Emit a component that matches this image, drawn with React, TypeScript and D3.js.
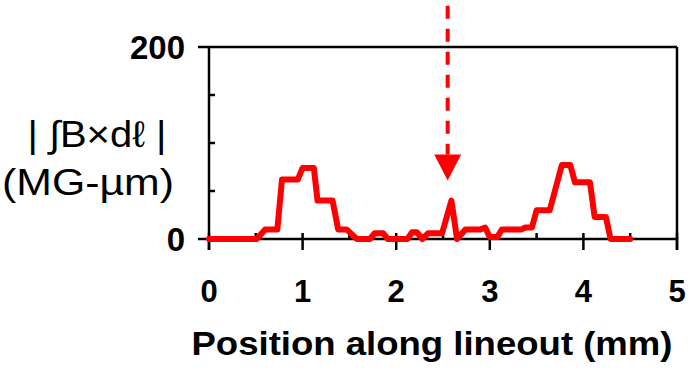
import React, { useEffect, useRef } from 'react';
import * as d3 from 'd3';

// lineout: position (mm) and |∫B×dℓ| (MG-µm)
const positions = [
  0, 0.51, 0.6, 0.73, 0.78, 0.95, 1.0, 1.12, 1.16, 1.32, 1.38, 1.47, 1.58, 1.72,
  1.77, 1.86, 1.91, 2.12, 2.17, 2.22, 2.28, 2.34, 2.49, 2.59, 2.65, 2.74, 2.9,
  2.95, 3.0, 3.08, 3.13, 3.34, 3.38, 3.45, 3.5, 3.64, 3.77, 3.86, 3.91, 4.07,
  4.12, 4.24, 4.29, 4.5,
];
const fieldValues = [
  0, 0, 10, 10, 62, 62, 74, 74, 40, 40, 10, 10, 0, 0,
  6, 6, 0, 0, 7, 7, 0, 6, 6, 40, 0, 10, 10,
  12, 2, 2, 10, 10, 12, 12, 30, 30, 77, 77, 59, 59,
  23, 23, 0, 0,
];

const xTicks = [0, 1, 2, 3, 4, 5];
const xMinorTicks = [0.5, 1.5, 2.5, 3.5, 4.5];
const yTicks = [0, 200];
const yMinorTicks = [50, 100, 150];

// dashed arrow marking the feature
const arrowPosition = 2.55;
const arrowTop = 243;
const arrowBase = 88;
const arrowTip = 61;

type Pt = { x: number; v: number };

const FONT = '"Liberation Sans", Arial, Helvetica, sans-serif';

const LineoutChart: React.FC = () => {
  const ref = useRef<SVGSVGElement | null>(null);

  useEffect(() => {
    if (!ref.current) return;
    const svg = d3.select(ref.current);
    svg.selectAll('*').remove();

    const data: Pt[] = positions.map((x, i) => ({ x, v: fieldValues[i] }));

    const x = d3.scaleLinear().domain([0, 5]).range([209, 677]);
    const y = d3.scaleLinear().domain([0, 200]).range([239, 47]);

    const axis = svg.append('g').attr('stroke', '#000').attr('stroke-width', 2.5);

    // frame: top and right
    axis.append('line')
      .attr('x1', x(0) - 11).attr('x2', x(5))
      .attr('y1', y(200)).attr('y2', y(200));
    axis.append('line')
      .attr('x1', x(5)).attr('x2', x(5))
      .attr('y1', y(200)).attr('y2', y(0) + 11);

    // axes
    axis.append('line')
      .attr('x1', x(0)).attr('x2', x(0))
      .attr('y1', y(200)).attr('y2', y(0) + 11);
    axis.append('line')
      .attr('x1', x(0) - 11).attr('x2', x(5))
      .attr('y1', y(0)).attr('y2', y(0));

    // x ticks cross the axis, minor ticks point in
    axis.selectAll('.xt').data(xTicks).join('line')
      .attr('x1', d => x(d)).attr('x2', d => x(d))
      .attr('y1', y(0) - 6).attr('y2', y(0) + 11);
    axis.selectAll('.xm').data(xMinorTicks).join('line')
      .attr('x1', d => x(d)).attr('x2', d => x(d))
      .attr('y1', y(0) - 6).attr('y2', y(0));
    axis.selectAll('.ym').data(yMinorTicks).join('line')
      .attr('x1', x(0)).attr('x2', x(0) + 6)
      .attr('y1', d => y(d)).attr('y2', d => y(d));

    svg.append('g')
      .attr('font-family', FONT).attr('font-weight', 'bold').attr('font-size', 31)
      .attr('text-anchor', 'middle')
      .selectAll('text').data(xTicks).join('text')
      .attr('x', d => x(d)).attr('y', 302)
      .text(d => d);

    svg.append('g')
      .attr('font-family', FONT).attr('font-weight', 'bold').attr('font-size', 33)
      .attr('text-anchor', 'end')
      .selectAll('text').data(yTicks).join('text')
      .attr('x', 185).attr('y', d => y(d) + 12)
      .text(d => d);

    // lineout
    const line = d3.line<Pt>().x(d => x(d.x)).y(d => y(d.v));
    svg.append('path')
      .datum(data)
      .attr('d', line)
      .attr('fill', 'none')
      .attr('stroke', '#ff0000')
      .attr('stroke-width', 6)
      .attr('stroke-linejoin', 'round')
      .attr('stroke-linecap', 'round');

    // arrow
    const ax = x(arrowPosition);
    svg.append('line')
      .attr('x1', ax).attr('x2', ax)
      .attr('y1', y(arrowTop)).attr('y2', y(arrowBase))
      .attr('stroke', '#ff0000').attr('stroke-width', 4)
      .attr('stroke-dasharray', '13 10');
    svg.append('path')
      .attr('d', `M${ax - 13.5},${y(arrowBase)}L${ax + 13.5},${y(arrowBase)}L${ax},${y(arrowTip)}Z`)
      .attr('fill', '#ff0000');

    // titles
    svg.append('text')
      .attr('x', 432).attr('y', 355)
      .attr('text-anchor', 'middle')
      .attr('font-family', FONT).attr('font-weight', 'bold').attr('font-size', 33)
      .attr('textLength', 481).attr('lengthAdjust', 'spacingAndGlyphs')
      .text('Position along lineout (mm)');

    const yl = svg.append('g')
      .attr('font-family', FONT).attr('font-size', 37).attr('text-anchor', 'middle');
    yl.append('text')
      .attr('x', 97).attr('y', 147)
      .attr('textLength', 139).attr('lengthAdjust', 'spacingAndGlyphs')
      .text('| ∫B×dℓ |');
    yl.append('text')
      .attr('x', 88).attr('y', 195)
      .attr('textLength', 172).attr('lengthAdjust', 'spacingAndGlyphs')
      .text('(MG-µm)');
  }, []);

  return <svg ref={ref} width={692} height={369} style={{ display: 'block', background: '#fff' }} />;
};

export default function App() {
  return (
    <div style={{ position: 'absolute', left: 0, top: 0 }}>
      <LineoutChart />
    </div>
  );
}
